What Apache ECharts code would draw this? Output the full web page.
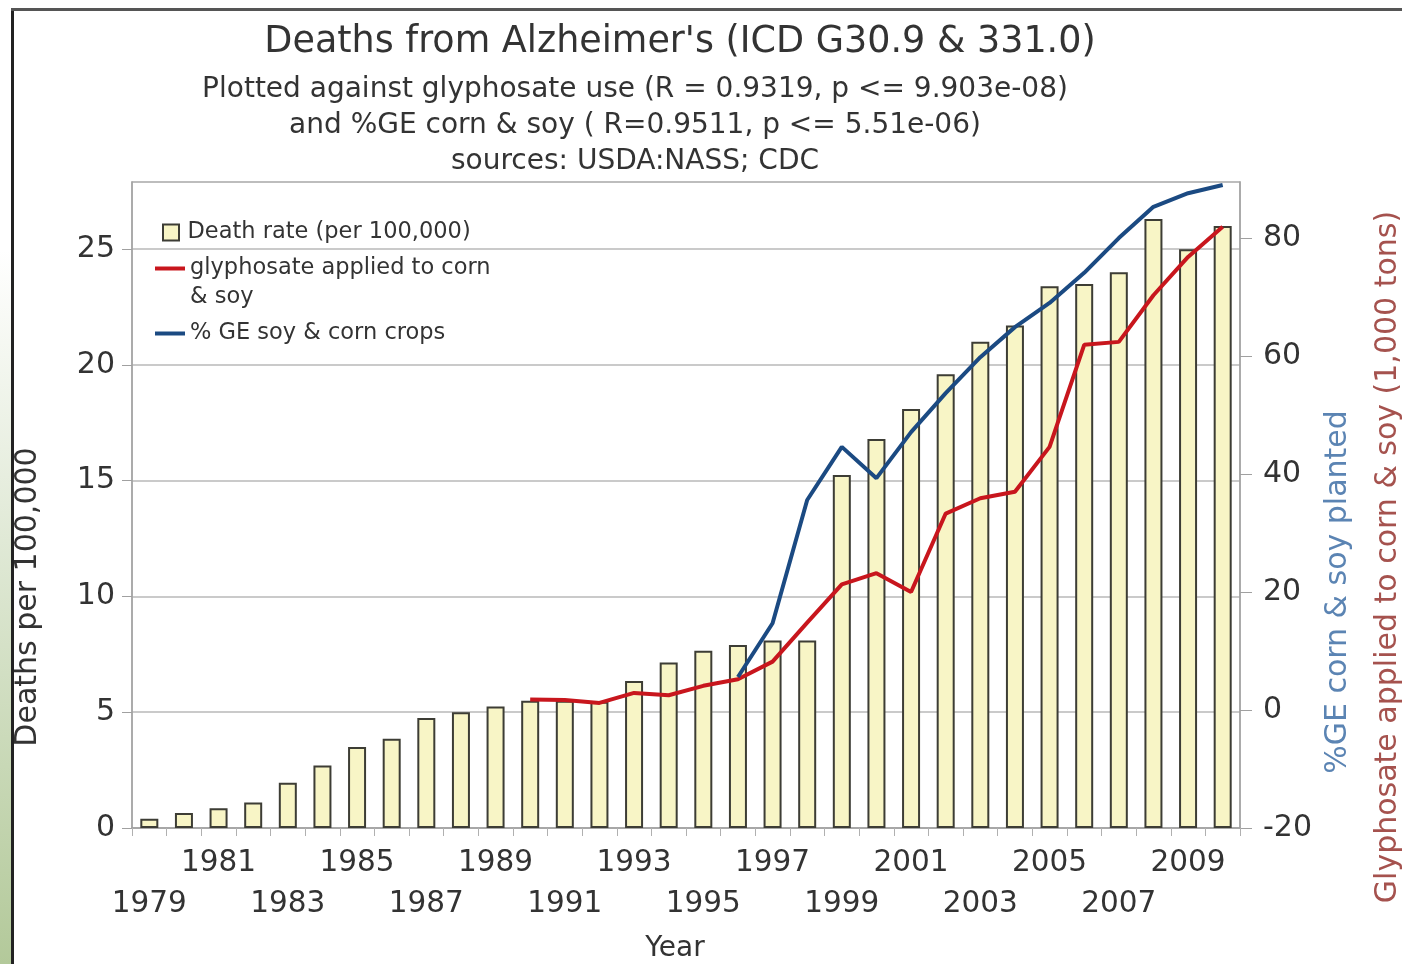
<!DOCTYPE html>
<html>
<head>
<meta charset="utf-8">
<title>Deaths from Alzheimer's</title>
<script src="https://cdn.jsdelivr.net/npm/echarts@6.0.0/dist/echarts.min.js"></script>
<style>
  html, body { margin: 0; padding: 0; background: #fff; }
  #chart { width: 1402px; height: 964px; }
</style>
</head>
<body>
<div id="chart"></div>
<script>
const years = ["1979", "1980", "1981", "1982", "1983", "1984", "1985", "1986", "1987", "1988",
  "1989", "1990", "1991", "1992", "1993", "1994", "1995", "1996", "1997", "1998",
  "1999", "2000", "2001", "2002", "2003", "2004", "2005", "2006", "2007", "2008",
  "2009", "2010"];

// deaths per 100,000
const deathRate = [0.4, 0.65, 0.85, 1.1, 1.95, 2.7, 3.5, 3.85, 4.75, 5.0,
  5.25, 5.5, 5.5, 5.45, 6.35, 7.15, 7.65, 7.9, 8.1, 8.1,
  15.25, 16.8, 18.1, 19.6, 21.0, 21.7, 23.4, 23.5, 24.0, 26.3,
  25.0, 26.0];

// glyphosate on corn & soy, 1,000 tons (no data before 1990)
const glyphosate = [null, null, null, null, null, null, null, null, null, null,
  null, 1.8, 1.7, 1.2, 2.9, 2.5, 4.1, 5.2, 8.2, 14.8,
  21.3, 23.2, 20.0, 33.3, 35.9, 37.0, 44.6, 61.9, 62.4, 70.3,
  76.8, 81.9];

// % GE soy & corn planted (no data before 1996)
const geCrops = [null, null, null, null, null, null, null, null, null, null,
  null, null, null, null, null, null, null, 5.6, 14.7, 35.6,
  44.6, 39.3, 47.1, 53.7, 59.8, 64.9, 69.0, 74.1, 80.0, 85.3,
  87.6, 89.0];

// staggered year labels
const upperLabels = ["1981", "1985", "1989", "1993", "1997", "2001", "2005", "2009"];
const lowerLabels = ["1979", "1983", "1987", "1991", "1995", "1999", "2003", "2007"];

const FONT = "DejaVu Sans";
const TXT = "#333333";

const chart = echarts.init(document.getElementById("chart"));

const barName = "Death rate (per 100,000)";
const redName = "glyphosate applied to corn\n& soy";
const blueName = "% GE soy & corn crops";

const lineIcon = "path://M0,0H30V4H0Z";
const boxIcon = "path://M0,0H16V16H0Z";

const legendBase = {
  orient: "vertical",
  left: 155,
  itemWidth: 30,
  itemHeight: 16,
  itemGap: 7,
  padding: 0,
  selectedMode: false,
  textStyle: { fontFamily: FONT, fontSize: 22.5, color: TXT, lineHeight: 29 }
};

const option = {
  backgroundColor: "#ffffff",
  title: [
    {
      text: "Deaths from Alzheimer's (ICD G30.9 & 331.0)",
      left: 680,
      textAlign: "center",
      top: 24,
      padding: 0,
      textStyle: { fontFamily: FONT, fontSize: 36.5, fontWeight: "normal", color: TXT }
    },
    {
      text: "Plotted against glyphosate use (R = 0.9319, p <= 9.903e-08)\n" +
        "and %GE corn & soy ( R=0.9511, p <= 5.51e-06)\n" +
        "sources: USDA:NASS; CDC",
      left: 635,
      textAlign: "center",
      top: 72,
      padding: 0,
      textStyle: { fontFamily: FONT, fontSize: 28, fontWeight: "normal", color: TXT, lineHeight: 36 }
    }
  ],
  legend: [
    Object.assign({}, legendBase, {
      top: 218,
      left: 162,
      itemWidth: 23,
      data: [{ name: barName, icon: boxIcon }]
    }),
    Object.assign({}, legendBase, {
      top: 225,
      formatter: function (name) { return "\n" + name; },
      data: [{ name: redName, icon: lineIcon }]
    }),
    Object.assign({}, legendBase, {
      top: 319,
      data: [{ name: blueName, icon: lineIcon }]
    })
  ],
  grid: {
    left: 132,
    right: 162,
    top: 182,
    bottom: 136,
    outerBoundsMode: "none",
    show: true,
    borderColor: "#b8b8b8",
    borderWidth: 1.5,
    backgroundColor: "transparent"
  },
  xAxis: {
    type: "category",
    data: years,
    name: "Year",
    nameLocation: "middle",
    nameGap: 107,
    nameTextStyle: { fontFamily: FONT, fontSize: 28, color: TXT, padding: [0, 22, 0, 0] },
    axisLine: { lineStyle: { color: "#a0a0a0", width: 1.5 } },
    axisTick: { show: true, interval: 0, length: 8, lineStyle: { color: "#b0b0b0" } },
    axisLabel: {
      interval: 0,
      margin: 15,
      fontFamily: FONT,
      fontSize: 29.5,
      color: TXT,
      lineHeight: 41,
      formatter: function (value) {
        if (upperLabels.indexOf(value) >= 0) return value;
        if (lowerLabels.indexOf(value) >= 0) return "\n" + value;
        return "";
      }
    }
  },
  yAxis: [
    {
      type: "value",
      position: "left",
      min: 0,
      max: 27.9,
      interval: 5,
      name: "Deaths per 100,000",
      nameLocation: "middle",
      nameGap: 89,
      nameTextStyle: { fontFamily: FONT, fontSize: 30, color: TXT, padding: [0, 184, 0, 0] },
      axisLine: { show: true, lineStyle: { color: "#a0a0a0", width: 1.5 } },
      axisTick: { show: true, length: 10, lineStyle: { color: "#a0a0a0" } },
      axisLabel: { margin: 17, fontFamily: FONT, fontSize: 30, color: TXT, showMaxLabel: false },
      splitLine: { show: true, lineStyle: { color: "#b8b8b8", width: 1.5 } }
    },
    {
      type: "value",
      position: "right",
      min: -20,
      max: 89.5,
      interval: 20,
      name: "%GE corn & soy planted",
      nameLocation: "middle",
      nameGap: 83,
      nameTextStyle: { fontFamily: FONT, fontSize: 30, color: "#5b84b3", padding: [0, 174, 0, 0] },
      axisLine: { show: true, lineStyle: { color: "#a0a0a0", width: 1.5 } },
      axisTick: { show: true, length: 12, lineStyle: { color: "#a0a0a0" } },
      axisLabel: { margin: 23, fontFamily: FONT, fontSize: 30, color: TXT, showMaxLabel: false },
      splitLine: { show: false }
    },
    {
      type: "value",
      position: "right",
      min: -20,
      max: 89.5,
      interval: 20,
      name: "Glyphosate applied to corn & soy (1,000 tons)",
      nameLocation: "middle",
      nameGap: 133,
      nameTextStyle: { fontFamily: FONT, fontSize: 30, color: "#a5524e", padding: [0, 104, 0, 0] },
      axisLine: { show: false },
      axisTick: { show: false },
      axisLabel: { show: false },
      splitLine: { show: false }
    }
  ],
  series: [
    {
      name: barName,
      type: "bar",
      yAxisIndex: 0,
      data: deathRate,
      barWidth: 18,
      itemStyle: { color: "#f8f5c6", borderColor: "#3d3d35", borderWidth: 2 },
      z: 2
    },
    {
      name: redName,
      type: "line",
      yAxisIndex: 2,
      data: glyphosate,
      showSymbol: false,
      symbol: "none",
      itemStyle: { color: "#c8161d" },
      lineStyle: { color: "#c8161d", width: 4 },
      z: 4
    },
    {
      name: blueName,
      type: "line",
      yAxisIndex: 1,
      data: geCrops,
      showSymbol: false,
      symbol: "none",
      itemStyle: { color: "#1b4a82" },
      lineStyle: { color: "#1b4a82", width: 4 },
      z: 5
    }
  ],
  graphic: [
    // screenshot frame around the chart
    {
      type: "rect",
      shape: { x: 0, y: 250, width: 11, height: 714 },
      style: {
        fill: new echarts.graphic.LinearGradient(0, 0, 0, 1, [
          { offset: 0, color: "rgba(255,255,255,1)" },
          { offset: 1, color: "#b3c99a" }
        ])
      },
      silent: true,
      z: 10
    },
    {
      type: "rect",
      shape: { x: 11, y: 8, width: 3, height: 956 },
      style: { fill: "#222222" },
      silent: true,
      z: 10
    },
    {
      type: "rect",
      shape: { x: 11, y: 8, width: 1391, height: 3 },
      style: { fill: "#555555" },
      silent: true,
      z: 10
    }
  ]
};

chart.setOption(option);
window.addEventListener("resize", function () { chart.resize(); });
</script>
</body>
</html>
